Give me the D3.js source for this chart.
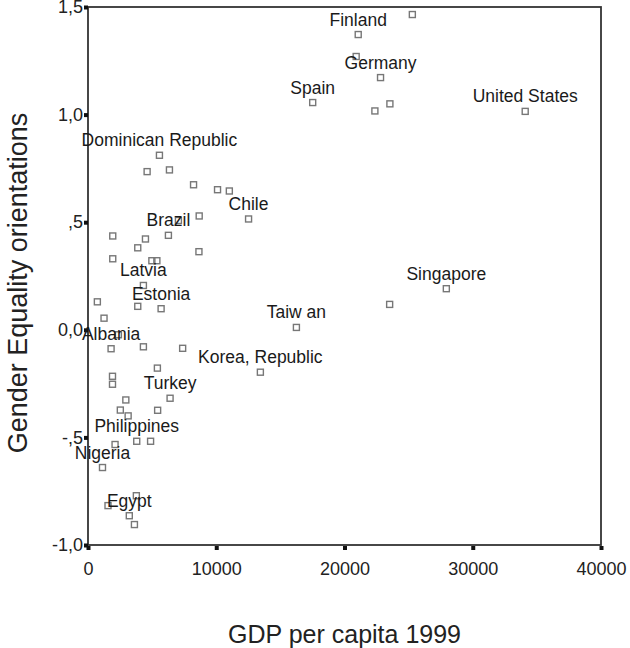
<!DOCTYPE html>
<html>
<head>
<meta charset="utf-8">
<script src="https://cdn.jsdelivr.net/npm/d3@7/dist/d3.min.js"></script>
<style>
  html, body { margin: 0; padding: 0; background: #fff; }
  svg { display: block; }
  text { font-family: "Liberation Sans", Arial, Helvetica, sans-serif; }
</style>
</head>
<body>
<svg id="chart" width="630" height="648"></svg>
<script>
// GDP per capita 1999 (x) and Gender Equality orientations (y)
const countries = [
  "Finland","Germany","Spain","United States","Dominican Republic","Chile","Brazil",
  "Latvia","Estonia","Singapore","Taiw an","Albania","Korea, Republic","Turkey",
  "Philippines","Nigeria","Egypt",
  "","","","","","","","","","","","","","","","","","","","","","","","","","","","","","","","","","","","",""
];
const gdp = [
  21070,22810,17520,34090,5570,12520,6270,
  4320,5700,27940,16250,1800,13440,6400,
  3800,1130,3220,
  25290,20910,22370,23540,4610,6350,8230,10100,11020,8670,7050,1930,4480,3880,8650,1930,
  4980,5370,3880,730,1250,23520,2370,4320,7380,5410,1910,1910,2950,2520,3130,5430,4880,
  2110,3770,1560,3620
];
const equality = [
  1.372,1.172,1.056,1.015,0.811,0.515,0.439,
  0.206,0.098,0.191,0.011,-0.088,-0.197,-0.318,
  -0.518,-0.640,-0.864,
  1.465,1.270,1.017,1.050,0.735,0.743,0.674,0.651,0.645,0.529,0.508,0.436,0.422,0.381,0.363,0.330,
  0.321,0.321,0.109,0.130,0.054,0.118,-0.023,-0.079,-0.086,-0.178,-0.216,-0.253,-0.326,-0.373,-0.400,-0.374,-0.518,
  -0.533,-0.771,-0.817,-0.905
];
const xTicks = [0, 10000, 20000, 30000, 40000];
const xTickLabels = ["0", "10000", "20000", "30000", "40000"];
const yTicks = [-1.0, -0.5, 0.0, 0.5, 1.0, 1.5];
const yTickLabels = ["-1,0", "-,5", "0,0", ",5", "1,0", "1,5"];
const xTitle = "GDP per capita 1999";
const yTitle = "Gender Equality orientations";

const data = gdp.map((g, i) => ({ x: g, y: equality[i], name: countries[i] || "" }));

const svg = d3.select("#chart");
const x = d3.scaleLinear().domain([0, 40000]).range([88, 601]);
const y = d3.scaleLinear().domain([-1, 1.5]).range([545, 7]);

// frame
svg.append("rect")
  .attr("x", x(0)).attr("y", y(1.5))
  .attr("width", x(40000) - x(0)).attr("height", y(-1) - y(1.5))
  .attr("fill", "none").attr("stroke", "#333").attr("stroke-width", 1.8);

// x axis
const xAxis = d3.axisBottom(x).tickValues(xTicks)
  .tickFormat((d, i) => xTickLabels[i]).tickSize(0).tickPadding(17);
const gx = svg.append("g").attr("transform", `translate(0,${y(-1)})`).call(xAxis);
gx.select(".domain").remove();
gx.selectAll("text").attr("font-size", 18).attr("fill", "#222")
  .attr("font-family", "'Liberation Sans', Arial, sans-serif");
gx.selectAll(".tick").append("rect")
  .attr("x", -2).attr("y", 1).attr("width", 4).attr("height", 4).attr("fill", "#111");

// y axis
const yAxis = d3.axisLeft(y).tickValues(yTicks)
  .tickFormat((d, i) => yTickLabels[i]).tickSize(0).tickPadding(5);
const gy = svg.append("g").attr("transform", `translate(${x(0)},0)`).call(yAxis);
gy.select(".domain").remove();
gy.selectAll("text").attr("font-size", 18).attr("fill", "#222")
  .attr("font-family", "'Liberation Sans', Arial, sans-serif");
gy.selectAll(".tick").append("rect")
  .attr("x", -4).attr("y", -2).attr("width", 4).attr("height", 4).attr("fill", "#111");

// points
const s = 6;
svg.append("g").selectAll("rect.pt").data(data).join("rect")
  .attr("class", "pt")
  .attr("x", d => x(d.x) - s / 2).attr("y", d => y(d.y) - s / 2)
  .attr("width", s).attr("height", s)
  .attr("fill", "none").attr("stroke", "#777").attr("stroke-width", 1.4);

// labels
svg.append("g").selectAll("text.lbl").data(data.filter(d => d.name)).join("text")
  .attr("class", "lbl")
  .attr("x", d => x(d.x)).attr("y", d => y(d.y) - 9)
  .attr("text-anchor", "middle").attr("font-size", 17.5).attr("fill", "#1a1a1a")
  .text(d => d.name);

// titles
svg.append("text").attr("x", (x(0) + x(40000)) / 2).attr("y", 643)
  .attr("text-anchor", "middle").attr("font-size", 25).attr("fill", "#222").text(xTitle);
svg.append("text").attr("transform", "translate(27,283) rotate(-90)")
  .attr("text-anchor", "middle").attr("font-size", 27).attr("fill", "#222").text(yTitle);
</script>
</body>
</html>
